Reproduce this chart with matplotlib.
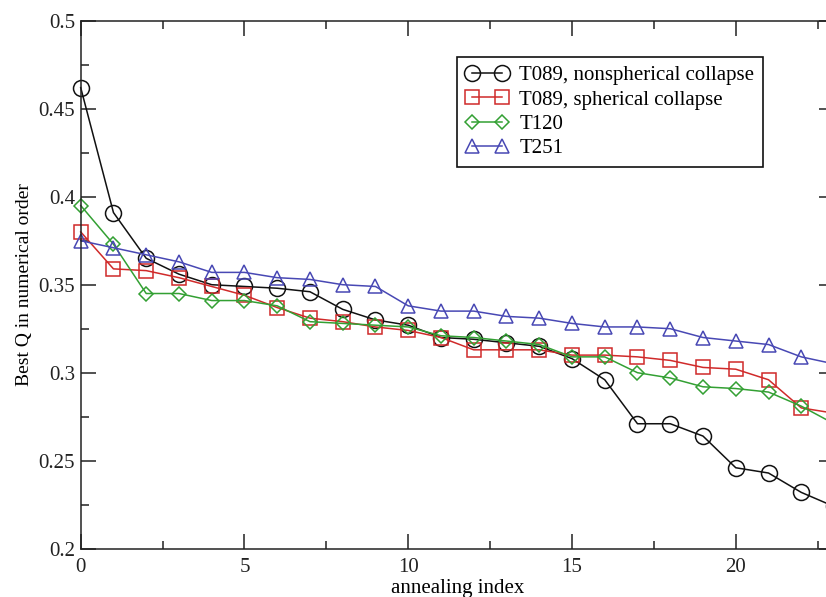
import matplotlib
matplotlib.use("Agg")
import matplotlib.pyplot as plt
from matplotlib.ticker import MultipleLocator

plt.rcParams['font.family'] = ['Liberation Serif', 'DejaVu Serif']

index = list(range(24))

# best Q values
t089_nonsph = [0.462, 0.391, 0.365, 0.356, 0.350, 0.349, 0.348, 0.346, 0.336, 0.330,
               0.327, 0.320, 0.319, 0.317, 0.315, 0.308, 0.296, 0.271, 0.271, 0.264,
               0.246, 0.243, 0.232, 0.224]
t089_sph = [0.380, 0.359, 0.358, 0.354, 0.349, 0.344, 0.337, 0.331, 0.329, 0.326,
            0.324, 0.320, 0.313, 0.313, 0.313, 0.310, 0.310, 0.309, 0.307, 0.303,
            0.302, 0.296, 0.280, 0.277]
t120 = [0.395, 0.373, 0.345, 0.345, 0.341, 0.341, 0.338, 0.329, 0.328, 0.327,
        0.326, 0.321, 0.320, 0.318, 0.316, 0.309, 0.309, 0.300, 0.297, 0.292,
        0.291, 0.289, 0.281, 0.271]
t251 = [0.375, 0.371, 0.367, 0.363, 0.357, 0.357, 0.354, 0.353, 0.350, 0.349,
        0.338, 0.335, 0.335, 0.332, 0.331, 0.328, 0.326, 0.326, 0.325, 0.320,
        0.318, 0.316, 0.309, 0.305]

series = [
    (t089_nonsph, 'T089, nonspherical collapse', '#111111', 'o', 11.5),
    (t089_sph, 'T089, spherical collapse', '#d02a2a', 's', 10),
    (t120, 'T120', '#33a033', 'D', 7.5),
    (t251, 'T251', '#4848b4', '^', 10.5),
]

fig = plt.figure(figsize=(8.26, 5.97), dpi=100)
# right edge of the axes sits just outside the picture, as in the original crop
ax = fig.add_axes([0.0977, 0.0809, 0.912, 0.8844])

for vals, name, col, mk, ms in series:
    ax.plot(index, vals, color=col, lw=1.1, marker=mk, ms=ms,
            mfc='none', mec=col, mew=1.1, label=name, clip_on=False)

ax.set_xlim(0, 23)
ax.set_ylim(0.2, 0.5)
ax.xaxis.set_major_locator(MultipleLocator(5))
ax.xaxis.set_minor_locator(MultipleLocator(2.5))
ax.yaxis.set_major_locator(MultipleLocator(0.05))
ax.yaxis.set_minor_locator(MultipleLocator(0.025))
ax.yaxis.set_major_formatter(plt.FuncFormatter(lambda v, p: ('%g' % round(v, 3))))

ax.tick_params(which='both', direction='in', top=True, right=True, width=1.1,
               labelsize=15, colors='#222222')
ax.tick_params(which='major', length=11)
ax.tick_params(which='minor', length=6)
ax.tick_params(axis='x', pad=7)
ax.tick_params(axis='y', pad=4)
for s in ax.spines.values():
    s.set_linewidth(1.1)
    s.set_color('#222222')

ax.set_xlabel('annealing index', fontsize=15, labelpad=1)
ax.set_ylabel('Best Q in numerical order', fontsize=14, labelpad=4)

leg = ax.legend(loc='upper left', bbox_to_anchor=(0.4995, 0.931), borderaxespad=0,
                numpoints=2, fontsize=15, fancybox=False, framealpha=1,
                edgecolor='#111111', handlelength=2.05, handletextpad=0.52,
                labelspacing=0.22, borderpad=0.42)
leg.get_frame().set_linewidth(1.2)

fig.savefig('out.png', dpi=100)
